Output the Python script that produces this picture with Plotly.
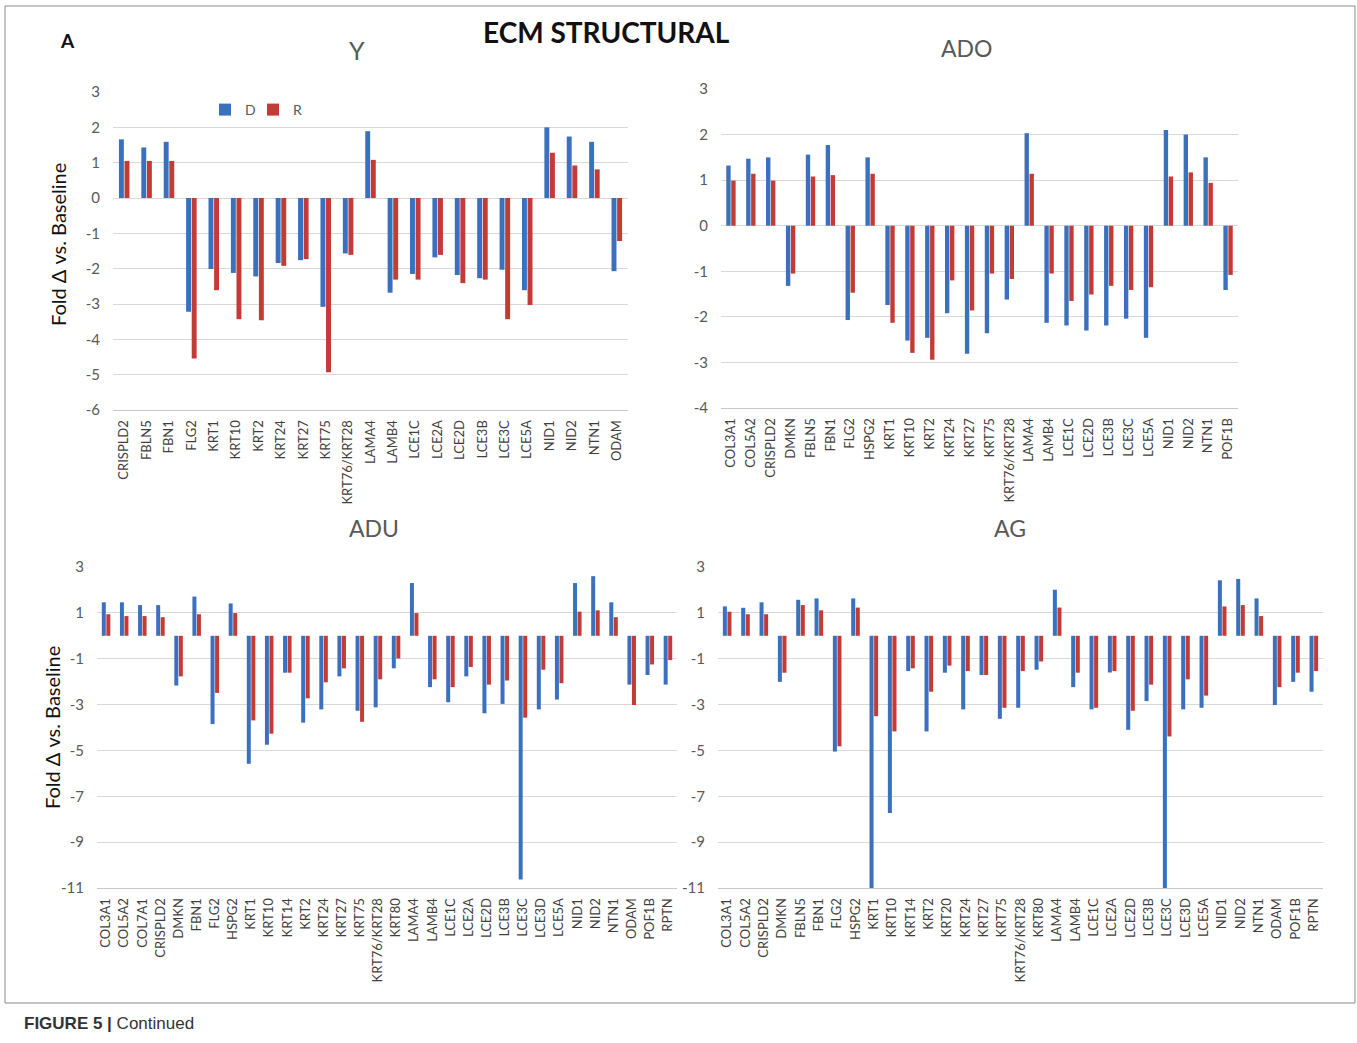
import plotly.graph_objects as go

W, H = 1357, 1043

# ---- data: fold change vs. baseline, D and R series per age group ----
y_genes = ["CRISPLD2", "FBLN5", "FBN1", "FLG2", "KRT1", "KRT10", "KRT2", "KRT24",
           "KRT27", "KRT75", "KRT76/KRT28", "LAMA4", "LAMB4", "LCE1C", "LCE2A",
           "LCE2D", "LCE3B", "LCE3C", "LCE5A", "NID1", "NID2", "NTN1", "ODAM"]
y_d = [1.66, 1.43, 1.59, -3.22, -2.01, -2.12, -2.22, -1.84, -1.76, -3.08, -1.57, 1.89,
       -2.68, -2.15, -1.68, -2.18, -2.27, -2.03, -2.61, 2.00, 1.74, 1.59, -2.07]
y_r = [1.05, 1.05, 1.05, -4.54, -2.61, -3.43, -3.46, -1.92, -1.73, -4.93, -1.61, 1.08,
       -2.31, -2.31, -1.61, -2.41, -2.31, -3.43, -3.03, 1.28, 0.92, 0.81, -1.22]

ado_genes = ["COL3A1", "COL5A2", "CRISPLD2", "DMKN", "FBLN5", "FBN1", "FLG2", "HSPG2",
             "KRT1", "KRT10", "KRT2", "KRT24", "KRT27", "KRT75", "KRT76/KRT28", "LAMA4",
             "LAMB4", "LCE1C", "LCE2D", "LCE3B", "LCE3C", "LCE5A", "NID1", "NID2",
             "NTN1", "POF1B"]
ado_d = [1.32, 1.47, 1.50, -1.32, 1.56, 1.77, -2.07, 1.50, -1.74, -2.52, -2.46, -1.92,
         -2.81, -2.36, -1.62, 2.03, -2.13, -2.19, -2.30, -2.19, -2.04, -2.46, 2.10, 2.00,
         1.50, -1.41]
ado_r = [0.99, 1.14, 0.99, -1.05, 1.08, 1.11, -1.47, 1.14, -2.13, -2.79, -2.94, -1.20,
         -1.86, -1.05, -1.17, 1.14, -1.05, -1.65, -1.51, -1.32, -1.41, -1.35, 1.08, 1.17,
         0.94, -1.08]

adu_genes = ["COL3A1", "COL5A2", "COL7A1", "CRISPLD2", "DMKN", "FBN1", "FLG2", "HSPG2",
             "KRT1", "KRT10", "KRT14", "KRT2", "KRT24", "KRT27", "KRT75", "KRT76/KRT28",
             "KRT80", "LAMA4", "LAMB4", "LCE1C", "LCE2A", "LCE2D", "LCE3B", "LCE3C",
             "LCE3D", "LCE5A", "NID1", "NID2", "NTN1", "ODAM", "POF1B", "RPTN"]
adu_d = [1.46, 1.46, 1.34, 1.34, -2.17, 1.71, -3.85, 1.41, -5.58, -4.75, -1.61, -3.79,
         -3.21, -1.77, -3.27, -3.12, -1.42, 2.30, -2.24, -2.90, -1.77, -3.38, -2.97,
         -10.63, -3.21, -2.78, 2.30, 2.60, 1.46, -2.13, -1.71, -2.13]
adu_r = [0.94, 0.86, 0.86, 0.81, -1.77, 0.94, -2.49, 0.99, -3.69, -4.27, -1.61, -2.73,
         -2.03, -1.42, -3.75, -1.90, -0.99, 0.99, -1.90, -2.24, -1.36, -2.13, -1.95,
         -3.57, -1.48, -2.07, 1.05, 1.11, 0.81, -3.02, -1.25, -1.06]

ag_genes = ["COL3A1", "COL5A2", "CRISPLD2", "DMKN", "FBLN5", "FBN1", "FLG2", "HSPG2",
            "KRT1", "KRT10", "KRT14", "KRT2", "KRT20", "KRT24", "KRT27", "KRT75",
            "KRT76/KRT28", "KRT80", "LAMA4", "LAMB4", "LCE1C", "LCE2A", "LCE2D", "LCE3B",
            "LCE3C", "LCE3D", "LCE5A", "NID1", "NID2", "NTN1", "ODAM", "POF1B", "RPTN"]
ag_d = [1.28, 1.22, 1.46, -2.01, 1.57, 1.63, -5.05, 1.63, -11.0, -7.73, -1.54, -4.17,
        -1.61, -3.21, -1.71, -3.62, -3.14, -1.48, 2.01, -2.24, -3.21, -1.60, -4.10,
        -2.85, -11.0, -3.21, -3.14, 2.42, 2.48, 1.63, -3.02, -2.01, -2.44]
ag_r = [1.05, 0.94, 0.94, -1.61, 1.34, 1.11, -4.82, 1.23, -3.51, -4.17, -1.42, -2.44,
        -1.30, -1.54, -1.71, -3.14, -1.54, -1.12, 1.23, -1.61, -3.14, -1.54, -3.27,
        -2.13, -4.39, -1.90, -2.61, 1.28, 1.34, 0.86, -2.24, -1.61, -1.54]

y_ticks_top_left = [3, 2, 1, 0, -1, -2, -3, -4, -5, -6]
y_ticks_top_right = [3, 2, 1, 0, -1, -2, -3, -4]
y_ticks_bottom = [3, 1, -1, -3, -5, -7, -9, -11]

BLUE = "#3b70bf"
RED = "#c43a35"
TICK_GRAY = "#595959"
LABEL_GRAY = "#3f3f3f"
GRID = "#d9d9d9"
FONT = "Lato"

# panel layout in pixels: plot-area left, right, top, bottom
panels = [
    dict(title="Y", genes=y_genes, d=y_d, r=y_r, box=(113, 628, 92, 410),
         rng=(-6, 3), ticks=y_ticks_top_left, tpos=(357, 50), tsize=25),
    dict(title="ADO", genes=ado_genes, d=ado_d, r=ado_r, box=(721, 1238, 89, 408),
         rng=(-4, 3), ticks=y_ticks_top_right, tpos=(966, 48), tsize=23),
    dict(title="ADU", genes=adu_genes, d=adu_d, r=adu_r, box=(97, 677, 567, 888),
         rng=(-11, 3), ticks=y_ticks_bottom, tpos=(374, 528), tsize=23),
    dict(title="AG", genes=ag_genes, d=ag_d, r=ag_r, box=(718, 1323, 567, 888),
         rng=(-11, 3), ticks=y_ticks_bottom, tpos=(1010, 528), tsize=23),
]


def px(x):
    return x / W


def py(y):
    return 1 - y / H


fig = go.Figure()
annotations = []

for i, p in enumerate(panels):
    n = "" if i == 0 else str(i + 1)
    xa, ya = "x" + n, "y" + n
    fig.add_trace(go.Bar(x=p["genes"], y=p["d"], name="D", marker_color=BLUE,
                         marker_line_width=0, xaxis=xa, yaxis=ya,
                         showlegend=(i == 0), legend="legend"))
    fig.add_trace(go.Bar(x=p["genes"], y=p["r"], name="R", marker_color=RED,
                         marker_line_width=0, xaxis=xa, yaxis=ya,
                         showlegend=(i == 0), legend="legend2"))
    x0, x1, y0, y1 = p["box"]
    fig.layout["xaxis" + n] = dict(
        domain=[px(x0), px(x1)], anchor=ya, type="category", automargin=False,
        tickangle=-90, tickfont=dict(family=FONT, size=13, color=LABEL_GRAY),
        showgrid=False, showline=True, linecolor="#c8c8c8", linewidth=1,
        ticks="", ticklabelstandoff=4, fixedrange=True,
    )
    fig.layout["yaxis" + n] = dict(
        domain=[py(y1), py(y0)], anchor=xa, range=list(p["rng"]), automargin=False,
        tickvals=p["ticks"], ticktext=[str(t) for t in p["ticks"]],
        tickfont=dict(family=FONT, size=15, color=TICK_GRAY),
        showgrid=True, gridcolor=GRID, gridwidth=1, zeroline=False,
        showline=False, ticks="", ticklabelstandoff=12, fixedrange=True,
    )
    annotations.append(dict(
        text=p["title"], x=px(p["tpos"][0]), y=py(p["tpos"][1]),
        xref="paper", yref="paper", showarrow=False, xanchor="center",
        yanchor="middle", font=dict(family=FONT, size=p["tsize"], color=TICK_GRAY),
    ))

# axis titles
for cx, cy in [(58, 245), (52, 728)]:
    annotations.append(dict(
        text="Fold Δ vs. Baseline", x=px(cx), y=py(cy), xref="paper", yref="paper",
        showarrow=False, textangle=-90, xanchor="center", yanchor="middle",
        font=dict(family=FONT, size=20, color="#111111"),
    ))

annotations.append(dict(
    text="<b>A</b>", x=px(67), y=py(40), xref="paper", yref="paper",
    showarrow=False, xanchor="center", yanchor="middle",
    font=dict(family=FONT, size=19, color="#111111"),
))
annotations.append(dict(
    text="<b>ECM STRUCTURAL</b>", x=px(606), y=py(32), xref="paper", yref="paper",
    showarrow=False, xanchor="center", yanchor="middle",
    font=dict(family=FONT, size=28, color="#111111"),
))
annotations.append(dict(
    text="<b>FIGURE 5 |</b> Continued", x=px(22), y=py(1023), xref="paper",
    yref="paper", showarrow=False, xanchor="left", yanchor="middle",
    font=dict(family="Liberation Sans", size=17, color="#333333"),
))

legend_style = dict(orientation="h", xanchor="left", yanchor="middle",
                    font=dict(family=FONT, size=14, color=TICK_GRAY),
                    bgcolor="rgba(0,0,0,0)", itemwidth=30)

fig.update_layout(
    width=W, height=H, margin=dict(l=0, r=0, t=0, b=0, autoexpand=False),
    paper_bgcolor="white", plot_bgcolor="white",
    barmode="group", bargap=0.5, bargroupgap=0.12,
    annotations=annotations,
    legend=dict(x=px(205), y=py(110), **legend_style),
    legend2=dict(x=px(253), y=py(110), **legend_style),
    shapes=[dict(type="rect", xref="paper", yref="paper",
                 x0=px(5), x1=px(1355), y0=py(1003), y1=py(6),
                 line=dict(color="#8c8c8c", width=1))],
)

fig.write_html("out.html")
